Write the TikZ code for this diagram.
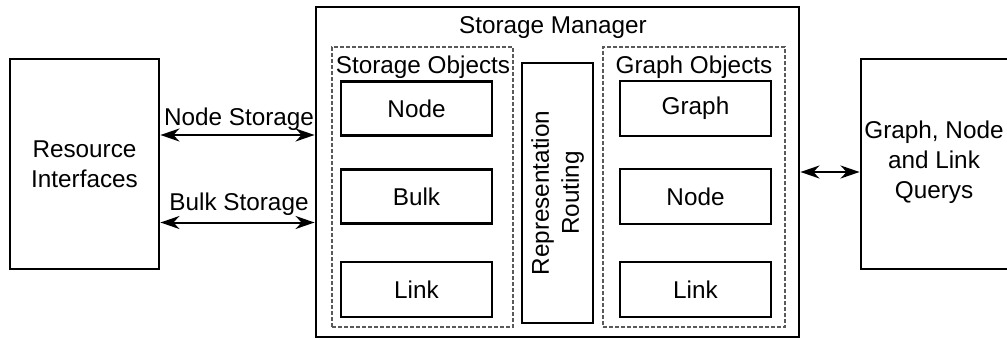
\documentclass[tikz,border=0pt]{standalone}
\usepackage{fontspec}
\setmainfont{Liberation Sans}
\usetikzlibrary{arrows.meta}

\tikzset{
  solidbox/.style={draw, line width=2.9pt, inner sep=0pt},
  itembox/.style={draw, line width=2.6pt, inner sep=0pt, minimum width=151pt},
  groupbox/.style={draw=black!65, line width=1.4pt, dash pattern=on 4pt off 2pt, inner sep=0pt},
  lbl/.style={inner sep=0pt, anchor=base},
  tipshape/.style={},
  biarrow/.style={line width=2pt, {Stealth[length=19pt,width=13pt,inset=6pt]}-{Stealth[length=19pt,width=13pt,inset=6pt]}},
}

\begin{document}
\begin{tikzpicture}[x=1pt, y=-1pt, font=\fontsize{24.3}{30}\selectfont]
  \useasboundingbox (0,0) rectangle (1007,340);

  % outer blocks
  \node[solidbox, minimum width=149pt, minimum height=210pt, align=center]
    (res) at (84.5,164) {Resource\\Interfaces};
  \node[solidbox, minimum width=483pt, minimum height=330pt] (sm) at (557.5,172) {};
  \node[solidbox, minimum width=160pt, minimum height=210pt] (qry) at (941,164) {};
  \node[inner sep=0pt, align=center] (qrytext) at (934,162) {Graph, Node\\and Link\\Querys};

  % storage manager title
  \node[lbl] (smtitle) at (553,33) {Storage Manager};

  % dashed groups
  \node[groupbox, minimum width=181pt, minimum height=280pt] (sobj) at (422.5,187) {};
  \node[groupbox, minimum width=182pt, minimum height=280pt] (gobj) at (694,187) {};
  \node[lbl] (sobjtitle) at (423,73) {Storage Objects};
  \node[lbl] (gobjtitle) at (694,73) {Graph Objects};

  % storage object entries
  \node[itembox, minimum height=54pt] (snode) at (416.5,108.5) {Node};
  \node[itembox, minimum height=54pt] (sbulk) at (416.5,196.5) {Bulk};
  \node[itembox, minimum height=55pt] (slink) at (416.5,289.5) {Link};

  % graph object entries
  \node[itembox, minimum height=55pt] (ggraph) at (695.5,108.5) {Graph};
  \node[itembox, minimum height=55pt] (gnode) at (695.5,196.5) {Node};
  \node[itembox, minimum height=55pt] (glink) at (695.5,289.5) {Link};

  % routing column
  \node[solidbox, line width=2.6pt, minimum width=71pt, minimum height=260pt] (rep) at (557.5,193) {};
  \node[inner sep=0pt, align=center, rotate=90] (reptext) at (557.5,193) {Representation\\Routing};

  % connectors
  \coordinate (nsy) at (0,135);
  \coordinate (bsy) at (0,222.5);
  \draw[biarrow] (res.east |- nsy) -- (sm.west |- nsy);
  \draw[biarrow] (res.east |- bsy) -- (sm.west |- bsy);
  \draw[biarrow] (sm.east) -- (qry.west |- sm.east);

  \node[lbl] (nslabel) at (239,125) {Node Storage};
  \node[lbl] (bslabel) at (239,210) {Bulk Storage};
\end{tikzpicture}
\end{document}
